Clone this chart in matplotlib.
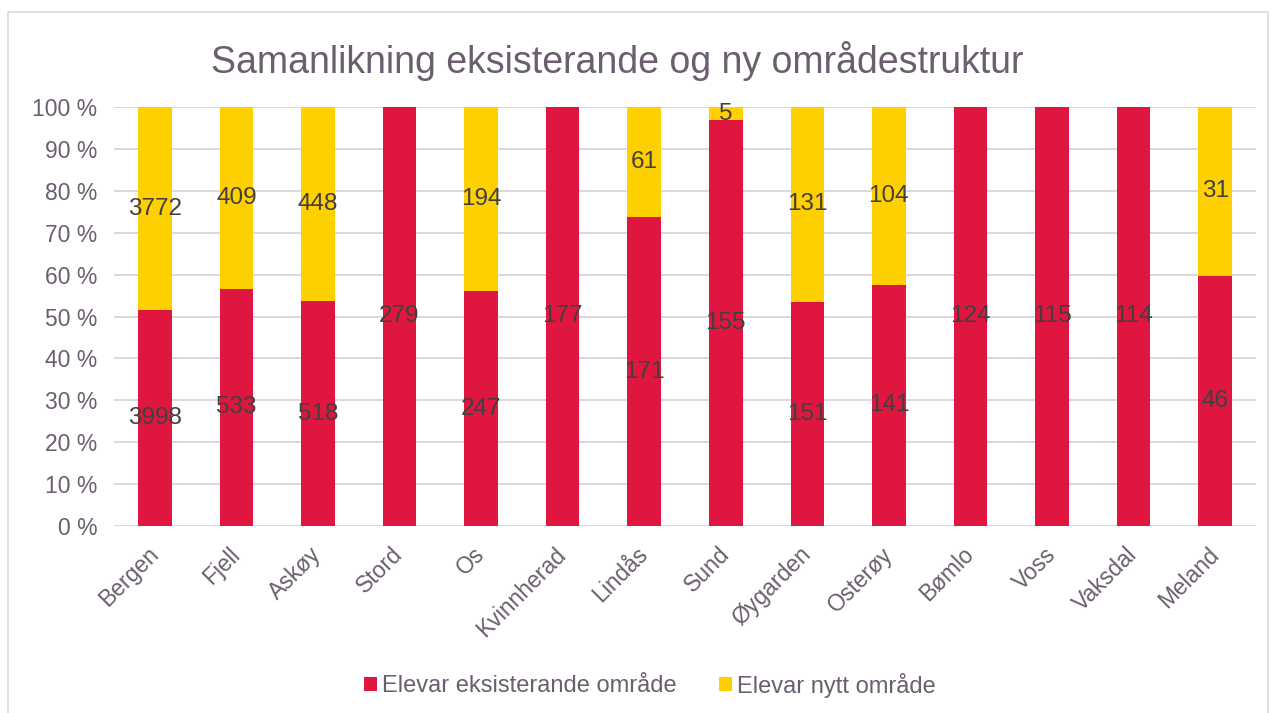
import numpy as np
import matplotlib
matplotlib.use("Agg")
import matplotlib.pyplot as plt
from matplotlib.patches import Rectangle

# data
kommunar = ["Bergen", "Fjell", "Askøy", "Stord", "Os", "Kvinnherad", "Lindås",
            "Sund", "Øygarden", "Osterøy", "Bømlo", "Voss", "Vaksdal", "Meland"]
eksisterande = [3998, 533, 518, 279, 247, 177, 171, 155, 151, 141, 124, 115, 114, 46]
nytt = [3772, 409, 448, 0, 194, 0, 61, 5, 131, 104, 0, 0, 0, 31]
yticks = [0, 10, 20, 30, 40, 50, 60, 70, 80, 90, 100]

RED = "#DF1740"
YEL = "#FFD000"
TXT = "#6B5E6E"
LAB = "#404040"
GRID = "#D9D4DA"

plt.rcParams['font.family'] = ['Liberation Sans', 'DejaVu Sans']

e = np.array(eksisterande, dtype=float)
n = np.array(nytt, dtype=float)
tot = e + n
ep = e / tot * 100
npc = n / tot * 100
x = np.arange(len(kommunar))

fig = plt.figure(figsize=(12.75, 7.13), dpi=100)
fig.patches.append(Rectangle((8/1275, -0.01), 1260/1275, 1 - 12/713 + 0.01,
                             transform=fig.transFigure, fill=False,
                             edgecolor="#D9D9D9", linewidth=1.2))
ax = fig.add_axes([114/1275, 1 - 526/713, 1142/1275, 419/713])

ax.bar(x, ep, width=0.41, color=RED, label="Elevar eksisterande område", zorder=2)
ax.bar(x, npc, width=0.41, bottom=ep, color=YEL, label="Elevar nytt område", zorder=2)

for i in range(len(x)):
    ax.text(x[i], ep[i] / 2, str(eksisterande[i]), ha="center", va="center",
            fontsize=17.5, color=LAB, zorder=3)
    if nytt[i] > 0:
        ax.text(x[i], ep[i] + npc[i] / 2, str(nytt[i]), ha="center", va="center",
                fontsize=17.5, color=LAB, zorder=3)

ax.set_xlim(-0.5, len(x) - 0.5)
ax.set_ylim(0, 100)
ax.set_yticks(yticks)
ax.set_yticklabels([f"{v} %" for v in yticks], fontsize=16.5, color=TXT)
ax.set_xticks(x)
ax.set_xticklabels(kommunar, rotation=45, ha="right", va="center",
                   rotation_mode="anchor", fontsize=16.5, color=TXT)
ax.tick_params(length=0)
ax.tick_params(axis="y", pad=12)
ax.tick_params(axis="x", pad=18)
ax.grid(axis="y", color=GRID, linewidth=1.3, zorder=0)
for s in ax.spines.values():
    s.set_visible(False)

fig.text(617/1275, 1 - 61/713, "Samanlikning eksisterande og ny områdestruktur",
         ha="center", va="center", fontsize=27, color=TXT)

fig.legend(loc="center", bbox_to_anchor=(650/1275, 1 - 685/713), ncol=2,
           frameon=False, fontsize=17, labelcolor=TXT, handlelength=0.55,
           handleheight=0.55, handletextpad=0.2, columnspacing=1.8)

fig.savefig("out.png", dpi=100)
